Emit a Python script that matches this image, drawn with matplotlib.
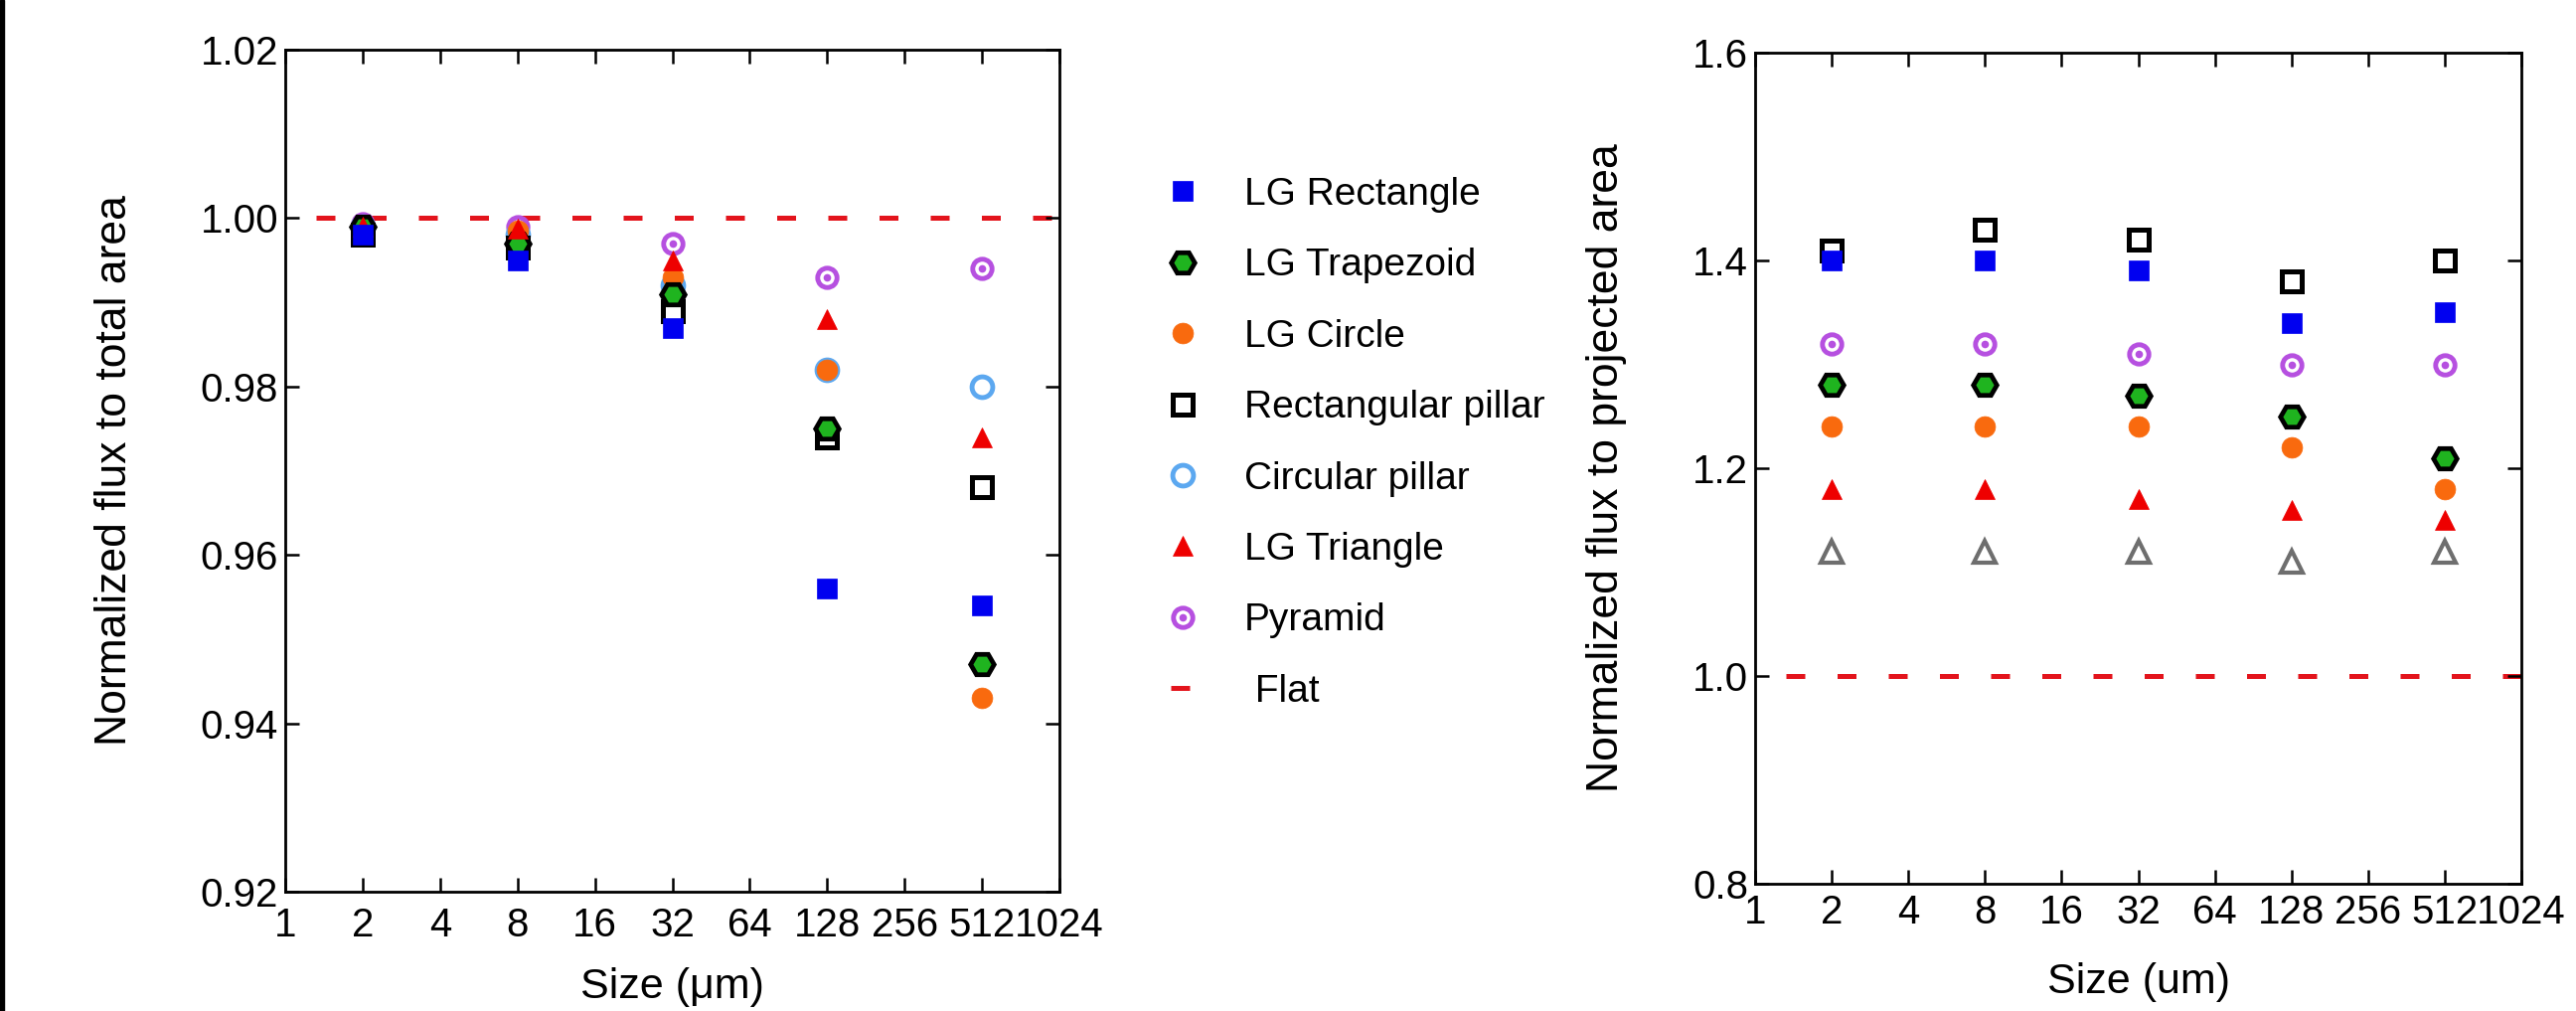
import matplotlib
matplotlib.use('Agg')
import matplotlib.pyplot as plt
from matplotlib import font_manager
from matplotlib.patches import Rectangle
from matplotlib.ticker import NullLocator

# sizes (um) on a log2 axis
sizes = [2, 8, 32, 128, 512]
x_ticks = [1, 2, 4, 8, 16, 32, 64, 128, 256, 512, 1024]
flat_x = [1.32, 1024]
flat_y = [1.0, 1.0]

# left panel: flux normalized to total area
tot_lg_rect = [0.998, 0.995, 0.987, 0.956, 0.954]
tot_lg_trap = [0.999, 0.997, 0.991, 0.975, 0.947]
tot_lg_circ = [0.999, 0.9985, 0.993, 0.982, 0.943]
tot_rect_pillar = [0.998, 0.9965, 0.989, 0.974, 0.968]
tot_circ_pillar = [0.999, 0.998, 0.992, 0.982, 0.980]
tot_lg_tri = [0.999, 0.9988, 0.995, 0.988, 0.974]
tot_pyramid = [0.9993, 0.999, 0.997, 0.993, 0.994]
left_yticks = [0.92, 0.94, 0.96, 0.98, 1.00, 1.02]

# right panel: flux normalized to projected area
proj_lg_rect = [1.40, 1.40, 1.39, 1.34, 1.35]
proj_rect_pillar = [1.41, 1.43, 1.42, 1.38, 1.40]
proj_pyramid = [1.32, 1.32, 1.31, 1.30, 1.30]
proj_lg_trap = [1.28, 1.28, 1.27, 1.25, 1.21]
proj_lg_circ = [1.24, 1.24, 1.24, 1.22, 1.18]
proj_lg_tri = [1.18, 1.18, 1.17, 1.16, 1.15]
proj_gray_tri = [1.12, 1.12, 1.12, 1.11, 1.12]
right_yticks = [0.8, 1.0, 1.2, 1.4, 1.6]

plt.rcParams['font.family'] = ['Liberation Sans', 'DejaVu Sans']
names = {f.name for f in font_manager.fontManager.ttflist}
tick_font = 'Liberation Sans Narrow' if 'Liberation Sans Narrow' in names else 'Liberation Sans'

BLUE = '#0000F0'
GREEN = '#1FB41F'
ORANGE = '#F96A0E'
RED = '#EE0000'
PURPLE = '#B650E0'
LBLUE = '#5CA8F0'
GRAY = '#6E6E6E'
FLAT = '#E3141C'

W, H = 2592, 1017
fig = plt.figure(figsize=(W / 100, H / 100), dpi=100)


def px_axes(x0, x1, y0, y1):
    return fig.add_axes([x0 / W, 1 - y1 / H, (x1 - x0) / W, (y1 - y0) / H])


def style(ax, yticks, yfmt, xpad):
    ax.set_xscale('log', base=2)
    ax.set_xlim(1, 1024)
    ax.set_xticks(x_ticks)
    ax.set_xticklabels([str(t) for t in x_ticks])
    ax.xaxis.set_minor_locator(NullLocator())
    ax.set_ylim(yticks[0], yticks[-1])
    ax.set_yticks(yticks)
    ax.set_yticklabels([yfmt.format(v) for v in yticks])
    ax.tick_params(direction='in', top=True, right=True, length=10, width=1.8,
                   labelsize=29)
    ax.tick_params(axis='x', pad=xpad)
    ax.tick_params(axis='y', pad=5)
    for lab in ax.get_xticklabels() + ax.get_yticklabels():
        lab.set_fontfamily(tick_font)
    for s in ax.spines.values():
        s.set_linewidth(2)


def flat_line(ax):
    return ax.plot(flat_x, flat_y, color=FLAT, lw=3.6, ls=(0, (3.8, 6.5)),
                   dash_capstyle='butt', zorder=1)[0]


def pyramid(ax, y):
    h1 = ax.plot(sizes, y, 'o', ls='none', ms=14, mfc='white', mec=PURPLE, mew=3.5)[0]
    h2 = ax.plot(sizes, y, 'o', ls='none', ms=5.5, mfc=PURPLE, mec=PURPLE, mew=0)[0]
    return (h1, h2)


# ---- left panel
ax1 = px_axes(287, 1066, 50, 897)
h_flat = flat_line(ax1)
h_pyr = pyramid(ax1, tot_pyramid)
h_cpil = ax1.plot(sizes, tot_circ_pillar, 'o', ls='none', ms=15, mfc='white', mec=LBLUE, mew=3.5)[0]
h_rpil = ax1.plot(sizes, tot_rect_pillar, 's', ls='none', ms=15, mfc='white', mec='black', mew=3.6)[0]
h_circ = ax1.plot(sizes, tot_lg_circ, 'o', ls='none', ms=15, mfc=ORANGE, mec=ORANGE, mew=0.5)[0]
h_trap = ax1.plot(sizes, tot_lg_trap, 'H', ls='none', ms=17, mfc=GREEN, mec='black', mew=3.4)[0]
h_tri = ax1.plot(sizes, tot_lg_tri, '^', ls='none', ms=15, mfc=RED, mec=RED, mew=0.5)[0]
h_rect = ax1.plot(sizes, tot_lg_rect, 's', ls='none', ms=15, mfc=BLUE, mec=BLUE, mew=0.5)[0]
style(ax1, left_yticks, '{:.2f}', 11)
ax1.set_xlabel('Size (\u03bcm)', fontsize=31)
ax1.xaxis.set_label_coords(0.5, -0.113)
ax1.xaxis.label.set_va('center')
ax1.set_ylabel('Normalized flux to total area', fontsize=32)
ax1.yaxis.set_label_coords(-0.22, 0.5)
ax1.yaxis.label.set_va('center')

# ---- right panel
ax2 = px_axes(1766, 2537, 53, 889)
flat_line(ax2)
pyramid(ax2, proj_pyramid)
ax2.plot(sizes, proj_gray_tri, '^', ls='none', ms=16, mfc='white', mec=GRAY, mew=3)
ax2.plot(sizes, proj_rect_pillar, 's', ls='none', ms=15, mfc='white', mec='black', mew=3.6)
ax2.plot(sizes, proj_lg_circ, 'o', ls='none', ms=15, mfc=ORANGE, mec=ORANGE, mew=0.5)
ax2.plot(sizes, proj_lg_trap, 'H', ls='none', ms=17, mfc=GREEN, mec='black', mew=3.4)
ax2.plot(sizes, proj_lg_tri, '^', ls='none', ms=15, mfc=RED, mec=RED, mew=0.5)
ax2.plot(sizes, proj_lg_rect, 's', ls='none', ms=15, mfc=BLUE, mec=BLUE, mew=0.5)
style(ax2, right_yticks, '{:.1f}', 7)
ax2.set_xlabel('Size (um)', fontsize=31)
ax2.xaxis.set_label_coords(0.5, -0.118)
ax2.xaxis.label.set_va('center')
ax2.set_ylabel('Normalized flux to projected area', fontsize=32)
ax2.yaxis.set_label_coords(-0.194, 0.5)
ax2.yaxis.label.set_va('center')

# ---- legend between the panels
handles = [h_rect, h_trap, h_circ, h_rpil, h_cpil, h_tri, h_pyr, h_flat]
labels = ['LG Rectangle', 'LG Trapezoid', 'LG Circle', 'Rectangular pillar',
          'Circular pillar', 'LG Triangle', 'Pyramid', ' Flat']
fig.legend(handles, labels, loc='upper left', bbox_to_anchor=(1178 / W, 1 - 178 / H),
           frameon=False, fontsize=28, handlelength=0.6, handletextpad=1.3,
           labelspacing=0.91, borderpad=0, borderaxespad=0)

# thin black bar along the left edge
fig.add_artist(Rectangle((0, 0), 4 / W, 1, transform=fig.transFigure,
                         color='black', zorder=10))

fig.savefig('out.png', dpi=100)
